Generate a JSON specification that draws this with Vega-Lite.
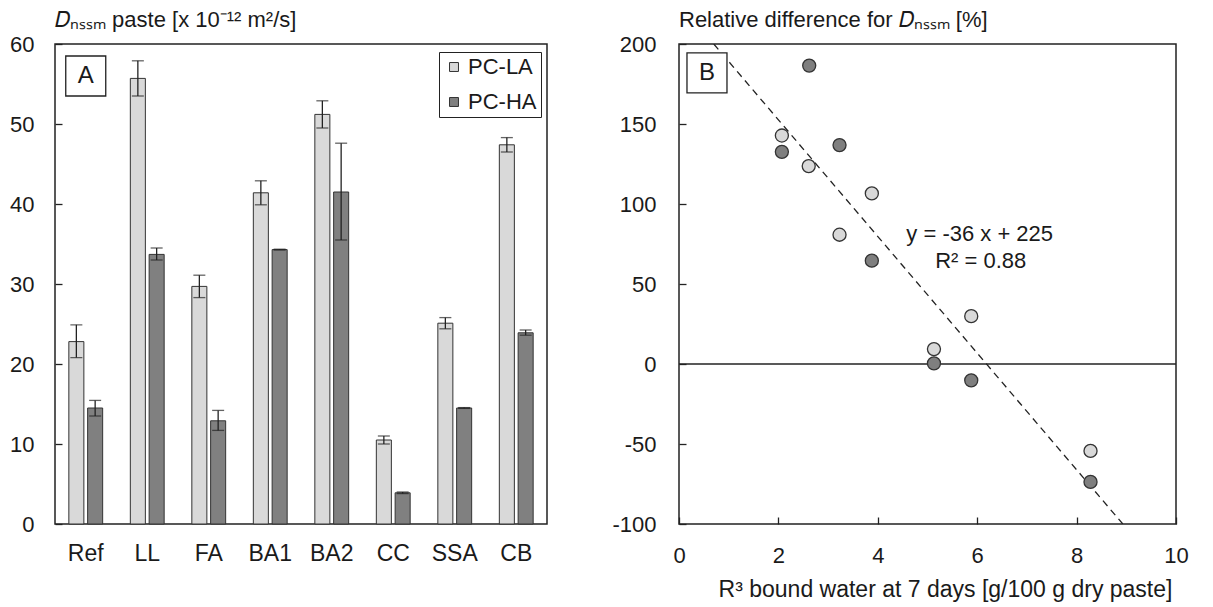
{
  "$schema": "https://vega.github.io/schema/vega-lite/v6.json",
  "padding": {"left": 8, "top": 8, "right": 5, "bottom": 5},
  "spacing": 63,
  "config": {
    "font": "Liberation Sans",
    "view": {"stroke": "#222222", "strokeWidth": 1.5},
    "axis": {"labelFont": "Liberation Sans", "labelFontSize": 22, "labelColor": "#1a1a1a", "titleFont": "Liberation Sans", "titleFontSize": 22, "titleFontWeight": "normal", "titleColor": "#1a1a1a", "grid": false, "domain": false, "tickColor": "#222222", "tickWidth": 1.3, "labelFlush": false},
    "title": {"font": "Liberation Sans", "fontSize": 22, "fontWeight": "normal", "color": "#1a1a1a", "anchor": "start", "frame": "group", "offset": 1},
    "legend": {"labelFont": "Liberation Sans", "labelFontSize": 22, "labelColor": "#1a1a1a"}
  },
  "datasets": {
    "bars": [
      {"cat": "Ref", "series": "PC-LA", "value": 22.8, "lo": 20.8, "hi": 24.9},
      {"cat": "Ref", "series": "PC-HA", "value": 14.5, "lo": 13.5, "hi": 15.45},
      {"cat": "LL", "series": "PC-LA", "value": 55.7, "lo": 53.5, "hi": 57.9},
      {"cat": "LL", "series": "PC-HA", "value": 33.7, "lo": 33.0, "hi": 34.5},
      {"cat": "FA", "series": "PC-LA", "value": 29.7, "lo": 28.3, "hi": 31.1},
      {"cat": "FA", "series": "PC-HA", "value": 12.9, "lo": 11.7, "hi": 14.2},
      {"cat": "BA1", "series": "PC-LA", "value": 41.4, "lo": 39.9, "hi": 42.9},
      {"cat": "BA1", "series": "PC-HA", "value": 34.3, "lo": 34.25, "hi": 34.35},
      {"cat": "BA2", "series": "PC-LA", "value": 51.2, "lo": 49.5, "hi": 52.9},
      {"cat": "BA2", "series": "PC-HA", "value": 41.5, "lo": 35.5, "hi": 47.6},
      {"cat": "CC", "series": "PC-LA", "value": 10.5, "lo": 10.0, "hi": 11.0},
      {"cat": "CC", "series": "PC-HA", "value": 3.9, "lo": 3.8, "hi": 4.0},
      {"cat": "SSA", "series": "PC-LA", "value": 25.1, "lo": 24.4, "hi": 25.8},
      {"cat": "SSA", "series": "PC-HA", "value": 14.5, "lo": 14.45, "hi": 14.55},
      {"cat": "CB", "series": "PC-LA", "value": 47.4, "lo": 46.5, "hi": 48.3},
      {"cat": "CB", "series": "PC-HA", "value": 23.9, "lo": 23.6, "hi": 24.25}
    ],
    "pts": [
      {"series": "PC-HA", "x": 2.62, "y": 186.5},
      {"series": "PC-HA", "x": 2.07, "y": 132.6},
      {"series": "PC-HA", "x": 3.23, "y": 136.8},
      {"series": "PC-HA", "x": 3.88, "y": 64.6},
      {"series": "PC-HA", "x": 5.13, "y": 0.4},
      {"series": "PC-HA", "x": 5.88, "y": -10.2},
      {"series": "PC-HA", "x": 8.28, "y": -73.7},
      {"series": "PC-LA", "x": 2.07, "y": 142.8},
      {"series": "PC-LA", "x": 2.61, "y": 123.7},
      {"series": "PC-LA", "x": 3.88, "y": 106.6},
      {"series": "PC-LA", "x": 3.23, "y": 80.8},
      {"series": "PC-LA", "x": 5.88, "y": 29.9},
      {"series": "PC-LA", "x": 5.13, "y": 9.3},
      {"series": "PC-LA", "x": 8.28, "y": -54.3}
    ],
    "fit": [
      {"x": 0.7, "y": 200},
      {"x": 8.93, "y": -100}
    ],
    "eq": [
      {"x": 6.05, "y": 81.5, "t": "y = -36 x + 225"},
      {"x": 6.07, "y": 64.5, "t": "R² = 0.88"}
    ]
  },
  "resolve": {"scale": {"fill": "independent"}, "legend": {"fill": "independent"}},
  "hconcat": [
    {
      "width": 492,
      "height": 480,
      "title": {"text": "𝐷ₙₛₛₘ paste [x 10⁻¹² m²/s]"},
      "encoding": {
        "x": {"field": "cat", "type": "nominal", "sort": ["Ref", "LL", "FA", "BA1", "BA2", "CC", "SSA", "CB"], "scale": {"paddingInner": 0.45, "paddingOuter": 0.225}, "axis": {"title": null, "labelAngle": 0, "ticks": false, "labelPadding": 18, "labelFontSize": 23}}
      },
      "layer": [
        {
          "data": {"name": "bars"},
          "mark": {"type": "bar", "stroke": "#333333", "strokeWidth": 1},
          "encoding": {
            "xOffset": {"field": "series", "type": "nominal", "sort": ["PC-LA", "PC-HA"], "scale": {"paddingInner": 0.2}},
            "y": {"field": "value", "type": "quantitative", "scale": {"domain": [0, 60]}, "axis": {"title": null, "values": [0, 10, 20, 30, 40, 50, 60], "tickSize": -7, "labelPadding": 28}},
            "fill": {"field": "series", "type": "nominal", "scale": {"domain": ["PC-LA", "PC-HA"], "range": ["#d9d9d9", "#808080"]}, "legend": {"title": null, "orient": "none", "legendX": 384, "legendY": 8, "strokeColor": "#222222", "fillColor": "white", "padding": 4, "rowPadding": 13, "symbolType": "square", "symbolSize": 80, "symbolStrokeColor": "#333333", "symbolStrokeWidth": 1, "labelOffset": 3}}
          }
        },
        {
          "data": {"name": "bars"},
          "mark": {"type": "rule", "color": "#222222", "strokeWidth": 1.3},
          "encoding": {
            "xOffset": {"field": "series", "type": "nominal", "sort": ["PC-LA", "PC-HA"], "scale": {"paddingInner": 0.2}},
            "y": {"field": "lo", "type": "quantitative"},
            "y2": {"field": "hi"}
          }
        },
        {
          "data": {"name": "bars"},
          "mark": {"type": "tick", "color": "#222222", "thickness": 1.3, "size": 12},
          "encoding": {
            "xOffset": {"field": "series", "type": "nominal", "sort": ["PC-LA", "PC-HA"], "scale": {"paddingInner": 0.2}},
            "y": {"field": "hi", "type": "quantitative"}
          }
        },
        {
          "data": {"name": "bars"},
          "mark": {"type": "tick", "color": "#222222", "thickness": 1.3, "size": 12},
          "encoding": {
            "xOffset": {"field": "series", "type": "nominal", "sort": ["PC-LA", "PC-HA"], "scale": {"paddingInner": 0.2}},
            "y": {"field": "lo", "type": "quantitative"}
          }
        },
        {
          "data": {"values": [{"cat": "Ref", "y": 56, "t": "A"}]},
          "mark": {"type": "point", "shape": "square", "size": 1600, "filled": true, "fill": "white", "stroke": "#222222", "strokeWidth": 1.3, "opacity": 1},
          "encoding": {"y": {"field": "y", "type": "quantitative"}}
        },
        {
          "data": {"values": [{"cat": "Ref", "y": 56, "t": "A"}]},
          "mark": {"type": "text", "fontSize": 24, "color": "#1a1a1a", "baseline": "middle", "align": "center"},
          "encoding": {"y": {"field": "y", "type": "quantitative"}, "text": {"field": "t"}}
        }
      ]
    },
    {
      "width": 497,
      "height": 480,
      "title": {"text": "Relative difference for 𝐷ₙₛₛₘ [%]"},
      "layer": [
        {
          "data": {"values": [{"z": 0}]},
          "mark": {"type": "rule", "color": "#222222", "strokeWidth": 1.3},
          "encoding": {"y": {"field": "z", "type": "quantitative", "scale": {"domain": [-100, 200]}}}
        },
        {
          "data": {"name": "fit"},
          "mark": {"type": "line", "color": "#222222", "strokeWidth": 1.3, "strokeDash": [7, 5], "clip": true},
          "encoding": {
            "x": {"field": "x", "type": "quantitative"},
            "y": {"field": "y", "type": "quantitative"}
          }
        },
        {
          "data": {"name": "pts"},
          "mark": {"type": "point", "shape": "circle", "filled": true, "size": 170, "stroke": "#333333", "strokeWidth": 1.3, "opacity": 1},
          "encoding": {
            "x": {"field": "x", "type": "quantitative", "scale": {"domain": [0, 10]}, "axis": {"title": "R³ bound water at 7 days [g/100 g dry paste]", "titleFontSize": 23, "values": [0, 2, 4, 6, 8, 10], "tickSize": -7, "labelPadding": 28, "titlePadding": 12, "titleX": 266, "titleAnchor": "middle"}},
            "y": {"field": "y", "type": "quantitative", "scale": {"domain": [-100, 200]}, "axis": {"title": null, "values": [-100, -50, 0, 50, 100, 150, 200], "tickSize": -7, "labelPadding": 30, "labelExpr": "replace(datum.label, '−', '-')"}},
            "fill": {"field": "series", "type": "nominal", "scale": {"domain": ["PC-LA", "PC-HA"], "range": ["#d9d9d9", "#7f7f7f"]}, "legend": null}
          }
        },
        {
          "data": {"values": [{"x": 0.563, "y": 182, "t": "B"}]},
          "mark": {"type": "point", "shape": "square", "size": 1600, "filled": true, "fill": "white", "stroke": "#222222", "strokeWidth": 1.3, "opacity": 1},
          "encoding": {"x": {"field": "x", "type": "quantitative"}, "y": {"field": "y", "type": "quantitative"}}
        },
        {
          "data": {"values": [{"x": 0.563, "y": 182, "t": "B"}]},
          "mark": {"type": "text", "fontSize": 24, "color": "#1a1a1a", "baseline": "middle", "align": "center"},
          "encoding": {"x": {"field": "x", "type": "quantitative"}, "y": {"field": "y", "type": "quantitative"}, "text": {"field": "t"}}
        },
        {
          "data": {"name": "eq"},
          "mark": {"type": "text", "fontSize": 22, "color": "#1a1a1a", "baseline": "middle", "align": "center"},
          "encoding": {"x": {"field": "x", "type": "quantitative"}, "y": {"field": "y", "type": "quantitative"}, "text": {"field": "t"}}
        }
      ]
    }
  ]
}
